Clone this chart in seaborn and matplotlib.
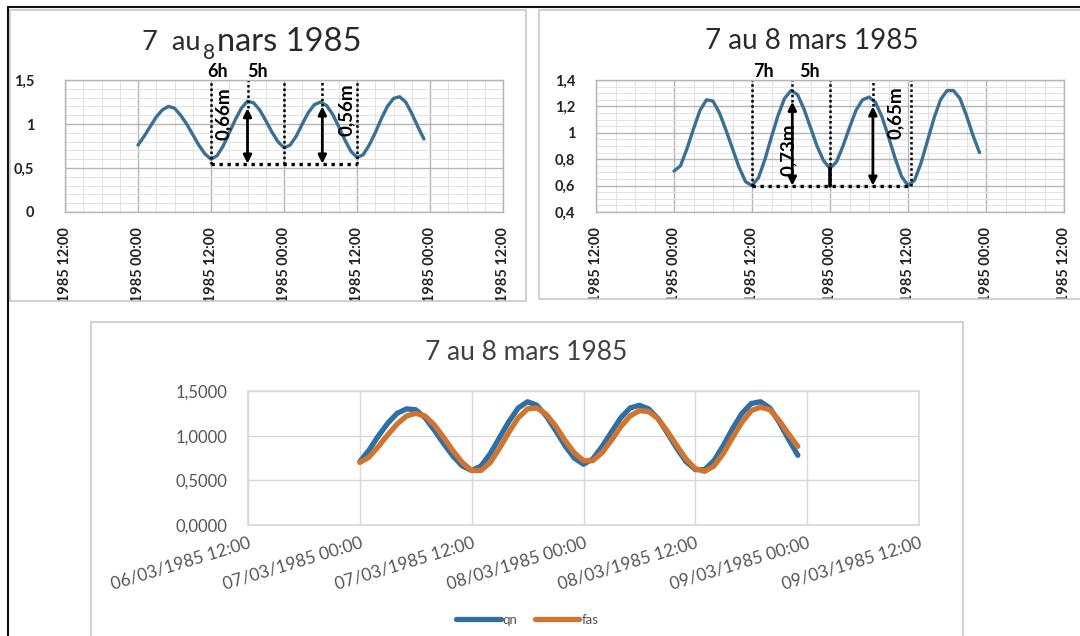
import numpy as np
import pandas as pd
import matplotlib
matplotlib.use("Agg")
import matplotlib.pyplot as plt
import matplotlib.dates as mdates
import seaborn as sns
from matplotlib.patches import Rectangle
from matplotlib.lines import Line2D
from matplotlib.ticker import AutoMinorLocator, FixedLocator
from matplotlib.transforms import Bbox, TransformedBbox

# ---------------- data ----------------
start_time = "1985-03-07 00:00"
hours = list(range(48))

# top-left panel (7 au 8 mars 1985)
level_tl = [0.76, 0.86, 0.97, 1.08, 1.16, 1.20, 1.18, 1.10, 1.00, 0.88, 0.76, 0.66,
            0.60, 0.64, 0.75, 0.90, 1.05, 1.18, 1.26, 1.24, 1.16, 1.04, 0.91, 0.80,
            0.73, 0.76, 0.86, 1.00, 1.13, 1.22, 1.25, 1.21, 1.11, 0.97, 0.82, 0.69,
            0.62, 0.65, 0.76, 0.90, 1.06, 1.20, 1.29, 1.31, 1.25, 1.12, 0.97, 0.83]
# top-right panel
level_tr = [0.71, 0.75, 0.88, 1.03, 1.17, 1.25, 1.24, 1.15, 1.02, 0.88, 0.74, 0.63,
            0.60, 0.66, 0.80, 0.97, 1.13, 1.26, 1.32, 1.29, 1.18, 1.04, 0.90, 0.79,
            0.73, 0.78, 0.90, 1.04, 1.17, 1.25, 1.27, 1.23, 1.12, 0.97, 0.81, 0.67,
            0.60, 0.64, 0.77, 0.94, 1.11, 1.25, 1.32, 1.32, 1.26, 1.13, 0.98, 0.85]
# bottom panel
qn = [0.71, 0.84, 1.00, 1.14, 1.25, 1.30, 1.29, 1.20, 1.06, 0.91, 0.77, 0.66,
      0.61, 0.66, 0.80, 0.98, 1.16, 1.31, 1.38, 1.34, 1.22, 1.06, 0.89, 0.75,
      0.68, 0.74, 0.88, 1.04, 1.20, 1.31, 1.34, 1.30, 1.19, 1.03, 0.86, 0.71,
      0.62, 0.62, 0.72, 0.89, 1.08, 1.25, 1.36, 1.38, 1.31, 1.15, 0.96, 0.78]
fas = [0.70, 0.76, 0.88, 1.01, 1.13, 1.22, 1.25, 1.22, 1.12, 0.98, 0.83, 0.70,
       0.61, 0.61, 0.70, 0.86, 1.04, 1.20, 1.30, 1.31, 1.24, 1.11, 0.95, 0.81,
       0.72, 0.72, 0.81, 0.95, 1.10, 1.22, 1.28, 1.27, 1.19, 1.05, 0.89, 0.74,
       0.63, 0.60, 0.66, 0.80, 0.98, 1.15, 1.28, 1.32, 1.29, 1.17, 1.02, 0.88]
series_names = ["qn", "fas"]

tick_times = ["1985-03-06 12:00", "1985-03-07 00:00", "1985-03-07 12:00",
              "1985-03-08 00:00", "1985-03-08 12:00", "1985-03-09 00:00",
              "1985-03-09 12:00"]
tick_labels = ["06/03/1985 12:00", "07/03/1985 00:00", "07/03/1985 12:00",
               "08/03/1985 00:00", "08/03/1985 12:00", "09/03/1985 00:00",
               "09/03/1985 12:00"]

title_main = "7 au 8 mars 1985"

# annotations (hours after start, levels)
tl_full_lines = [12, 24, 36]
tl_peak_lines = [18, 30.3]
tl_base = 0.55
tl_arrows = [(18, 1.18), (30.3, 1.20)]
tl_labels = [(14.0, 1.12, "0,66m"), (34.3, 1.16, "0,56m")]
tl_hours_text = [(13.0, "6h"), (19.6, "5h")]

tr_full_lines = [12, 24, 36.4]
tr_peak_lines = [18.1, 30.6]
tr_base = 0.60
tr_arrows = [(18.2, 1.235), (30.6, 1.20)]
tr_labels = [(17.6, 0.87, "0,73m"), (34.1, 1.15, "0,65m")]
tr_hours_text = [(13.8, "7h"), (20.9, "5h")]

# ---------------- setup ----------------
sns.set_theme(style="white")
plt.rcParams['font.family'] = ['Lato', 'DejaVu Sans']

W, H = 1080, 636
fig = plt.figure(figsize=(W / 100, H / 100), dpi=100)
fig.patch.set_facecolor("white")


def frect(l, t, r, b):
    return [l / W, 1 - b / H, (r - l) / W, (b - t) / H]


t0 = pd.Timestamp(start_time)
times = [t0 + pd.Timedelta(hours=h) for h in hours]
ticks = [pd.Timestamp(t) for t in tick_times]


def T(h):
    return mdates.date2num(t0 + pd.Timedelta(hours=h))


# panel frames
for (l, t, r, b) in [(10, 10, 526, 301), (539, 10, 1085, 299), (91, 322, 963, 640)]:
    fig.add_artist(Rectangle((l / W, 1 - b / H), (r - l) / W, (b - t) / H,
                             transform=fig.transFigure, facecolor="none",
                             edgecolor="#c8c8c8", lw=1.2))
# outer dark border
fig.add_artist(Line2D([8 / W, 1], [1 - 7 / H, 1 - 7 / H], transform=fig.transFigure,
                      color="#111111", lw=1.5))
fig.add_artist(Line2D([8 / W, 8 / W], [0, 1 - 7 / H], transform=fig.transFigure,
                      color="#111111", lw=1.5))

curve_col = "#3b6f93"


def top_panel(rect, values, ylim, yticks, ylabels, minor_y, clip_rect, ypad,
              full_lines, peak_lines, base, arrows, labels, htexts, htext_y, ytop):
    ax = fig.add_axes(frect(*rect))
    sns.lineplot(x=times, y=values, ax=ax, color=curve_col, lw=2.4)
    ax.set_xlim(ticks[0], ticks[-1])
    ax.set_ylim(*ylim)
    ax.set_xlabel("")
    ax.set_ylabel("")
    ax.xaxis.set_major_locator(FixedLocator(mdates.date2num(ticks)))
    ax.set_xticklabels(tick_labels)
    ax.xaxis.set_minor_locator(AutoMinorLocator(4))
    ax.set_yticks(yticks)
    ax.set_yticklabels(ylabels)
    ax.yaxis.set_minor_locator(AutoMinorLocator(minor_y))
    ax.grid(which="major", color="#b5b5b5", lw=1.0)
    ax.grid(which="minor", color="#e2e2e2", lw=0.7)
    for s in ax.spines.values():
        s.set_color("#b5b5b5")
        s.set_linewidth(1.0)
    ax.tick_params(axis="x", which="both", length=0, pad=11, labelsize=10.5,
                   labelcolor="#222222")
    ax.tick_params(axis="y", which="both", length=0, pad=ypad, labelsize=10.5,
                   labelcolor="#222222")
    for lab in ax.get_xticklabels():
        lab.set_rotation(90)
        lab.set_ha("center")
        lab.set_va("top")
        lab.set_fontweight("bold")
    for lab in ax.get_yticklabels():
        lab.set_fontweight("bold")
    l, t, r, b = clip_rect
    cb = TransformedBbox(Bbox.from_extents(l / W, 1 - b / H, r / W, 1 - t / H),
                         fig.transFigure)
    for lab in ax.get_xticklabels():
        lab.set_clip_box(cb)
        lab.set_clip_on(True)
    # annotations
    dot = dict(color="black", ls=(0, (1, 1.1)), lw=1.8)
    for h in full_lines:
        ax.plot([T(h), T(h)], [base, ytop], **dot)
    for h, ypk in zip(peak_lines, [a[1] for a in arrows]):
        ax.plot([T(h), T(h)], [ypk, ytop], **dot)
    ax.plot([T(full_lines[0]), T(full_lines[-1])], [base, base],
            color="black", ls=(0, (1, 1.4)), lw=2.4)
    for h, ytp in arrows:
        ax.annotate("", xy=(T(h), ytp), xytext=(T(h), base),
                    arrowprops=dict(arrowstyle="<|-|>", color="black", lw=2.0,
                                    mutation_scale=12, shrinkA=0, shrinkB=0))
    for h, yv, s in labels:
        ax.text(T(h), yv, s, rotation=90, ha="center", va="center",
                fontsize=13.5, fontweight="bold", color="black")
    for h, s in htexts:
        ax.text(T(h), htext_y, s, ha="center", va="center", fontsize=13,
                fontweight="bold", color="black", clip_on=False)
    return ax


ax1 = top_panel((65, 80, 503, 212), level_tl, (0, 1.5), [0, 0.5, 1, 1.5],
                ["0", "0,5", "1", "1,5"], 5, (10, 10, 526, 301), 22,
                tl_full_lines, tl_peak_lines, tl_base, tl_arrows, tl_labels,
                tl_hours_text, 1.595, 1.5)

ax2 = top_panel((596, 80, 1064, 212), level_tr, (0.4, 1.4),
                [0.4, 0.6, 0.8, 1.0, 1.2, 1.4],
                ["0,4", "0,6", "0,8", "1", "1,2", "1,4"], 4, (539, 10, 1085, 299), 15,
                tr_full_lines, tr_peak_lines, tr_base, tr_arrows, tr_labels,
                tr_hours_text, 1.468, 1.4)
# solid segment at 24h in right panel
ax2.plot([T(24), T(24)], [0.6, 0.73], color="black", lw=2.6)

# titles of top panels
fig.text(200 / W, 1 - 43 / H, "7  au", ha="right", va="center", fontsize=19.5,
         color="#2a2a2a")
fig.text(209 / W, 1 - 53 / H, "8", ha="center", va="center", fontsize=15,
         color="#2a2a2a")
fig.text(217 / W, 1 - 42 / H, "nars 1985", ha="left", va="center", fontsize=23.5,
         color="#2a2a2a")
fig.text(812 / W, 1 - 41 / H, title_main, ha="center", va="center", fontsize=20,
         color="#2a2a2a")

# ---------------- bottom panel ----------------
ax3 = fig.add_axes(frect(248, 391, 919, 525))
df = pd.DataFrame({
    "time": times * 2,
    "value": qn + fas,
    "serie": [series_names[0]] * len(qn) + [series_names[1]] * len(fas),
})
palette = {"qn": "#2f6fa3", "fas": "#d0742f"}
sns.lineplot(data=df, x="time", y="value", hue="serie", palette=palette,
             lw=3.8, ax=ax3, legend=False)
ax3.set_xlim(ticks[0], ticks[-1])
ax3.set_ylim(0, 1.5)
ax3.set_xlabel("")
ax3.set_ylabel("")
ax3.xaxis.set_major_locator(FixedLocator(mdates.date2num(ticks)))
ax3.set_xticklabels(tick_labels)
ax3.set_yticks([0, 0.5, 1.0, 1.5])
ax3.set_yticklabels(["0,0000", "0,5000", "1,0000", "1,5000"])
ax3.grid(which="major", color="#d9d9d9", lw=1.0)
for s in ax3.spines.values():
    s.set_color("#d9d9d9")
ax3.tick_params(axis="x", length=0, pad=7, labelsize=12.5, labelcolor="#555555")
ax3.tick_params(axis="y", length=0, pad=14.5, labelsize=12, labelcolor="#555555")
for lab in ax3.get_xticklabels():
    lab.set_rotation(17)
    lab.set_ha("right")
    lab.set_va("top")
    lab.set_rotation_mode("anchor")

fig.text(526 / W, 1 - 352 / H, title_main, ha="center", va="center", fontsize=19,
         color="#404040")

handles = [Line2D([], [], color=palette[n], lw=3.8) for n in series_names]
ax3.legend(handles, series_names, loc="center",
           bbox_to_anchor=(527 / W, 1 - 620 / H), bbox_transform=fig.transFigure,
           ncol=2, frameon=False, handlelength=3.4, handletextpad=0.15,
           columnspacing=1.3, fontsize=9.5, labelcolor="#555555")

fig.savefig("out.png", dpi=100, facecolor="white")
